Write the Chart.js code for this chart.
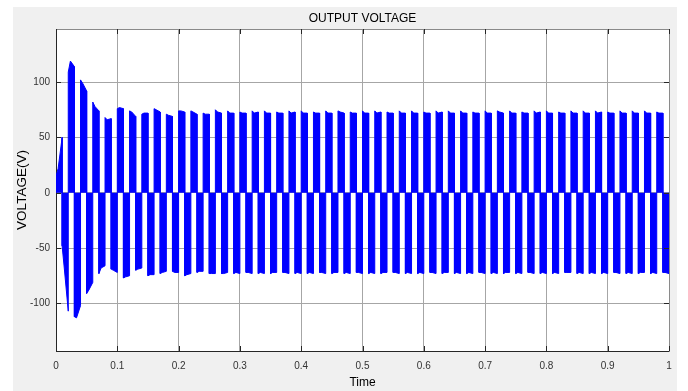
<!DOCTYPE html>
<html>
<head>
<meta charset="utf-8">
<script src="https://cdn.jsdelivr.net/npm/chart.js@4.4.1/dist/chart.umd.min.js"></script>
<style>
  html, body { margin: 0; padding: 0; background: #fff; }
  #c { display: block; }
</style>
</head>
<body>
<canvas id="c" width="688" height="391"></canvas>
<script>
// Output voltage of a single phase inverter (50 Hz square wave), scope style plot.
const chartTitle = 'OUTPUT VOLTAGE';
const xTitle = 'Time';
const yTitle = 'VOLTAGE(V)';

const xTicks = [0, 0.1, 0.2, 0.3, 0.4, 0.5, 0.6, 0.7, 0.8, 0.9, 1];
const xTickLabels = ['0', '0.1', '0.2', '0.3', '0.4', '0.5', '0.6', '0.7', '0.8', '0.9', '1'];
const yTicks = [-100, -50, 0, 50, 100];

// start time of each cycle (positive half first, negative half second)
const cycleStarts = [
  0.00, 0.02, 0.04, 0.06, 0.08, 0.10, 0.12, 0.14, 0.16, 0.18,
  0.20, 0.22, 0.24, 0.26, 0.28, 0.30, 0.32, 0.34, 0.36, 0.38,
  0.40, 0.42, 0.44, 0.46, 0.48, 0.50, 0.52, 0.54, 0.56, 0.58,
  0.60, 0.62, 0.64, 0.66, 0.68, 0.70, 0.72, 0.74, 0.76, 0.78,
  0.80, 0.82, 0.84, 0.86, 0.88, 0.90, 0.92, 0.94, 0.96, 0.98
];
// positive half cycle: value at start, near start, at end
const posTop = [
  [15, 22, 50], [109, 119, 114], [102, 99, 92], [82, 78, 74], [68, 66, 67],
  [76, 77, 76], [74, 73, 69], [71, 72, 72], [76, 75, 73], [71, 70, 69],
  [74, 74, 73], [74, 73, 71], [72, 71, 71], [75, 73, 72], [74, 72, 72],
  [73, 72, 72], [74, 72, 73], [74, 72, 72], [73, 72, 72], [74, 72, 73],
  [74, 72, 72], [73, 72, 72], [74, 72, 72], [74, 73, 72], [73, 72, 72],
  [74, 72, 72], [74, 72, 73], [73, 72, 72], [74, 72, 72], [74, 72, 72],
  [73, 72, 72], [74, 72, 73], [74, 72, 72], [74, 72, 72], [73, 72, 72],
  [74, 72, 72], [74, 73, 72], [74, 72, 72], [73, 72, 72], [74, 72, 73],
  [74, 72, 72], [73, 72, 72], [74, 72, 72], [74, 72, 72], [74, 72, 73],
  [73, 72, 72], [74, 72, 72], [74, 72, 72], [74, 72, 72], [73, 72, 72]
];
// negative half cycle: value at start, near start, at end
const negBottom = [
  [-48, -68, -107], [-112, -113, -102], [-91, -88, -81], [-73, -68, -66], [-69, -70, -72],
  [-77, -76, -75], [-70, -69, -68], [-75, -74, -74], [-73, -72, -71], [-71, -72, -72],
  [-75, -74, -73], [-72, -71, -71], [-73, -73, -73], [-73, -73, -72], [-73, -72, -73],
  [-72, -72, -73], [-73, -72, -73], [-73, -72, -72], [-72, -72, -73], [-73, -72, -73],
  [-73, -72, -73], [-72, -72, -73], [-73, -72, -72], [-73, -72, -73], [-72, -72, -73],
  [-73, -72, -73], [-73, -72, -72], [-72, -72, -73], [-73, -72, -73], [-73, -72, -73],
  [-72, -72, -73], [-73, -72, -72], [-73, -72, -73], [-73, -72, -73], [-72, -72, -73],
  [-73, -72, -73], [-73, -72, -72], [-73, -72, -73], [-72, -72, -73], [-73, -72, -73],
  [-73, -72, -73], [-72, -72, -72], [-73, -72, -73], [-73, -72, -73], [-73, -72, -73],
  [-72, -72, -73], [-73, -72, -73], [-73, -72, -72], [-73, -72, -73], [-72, -72, -73]
];

const HALF = 0.01;
const pts = [];
cycleStarts.forEach((t0, k) => {
  const p = posTop[k], n = negBottom[k];
  const tn = t0 + HALF;
  pts.push({x: t0, y: 0}, {x: t0, y: p[0]}, {x: t0 + 0.0035, y: p[1]}, {x: tn, y: p[2]}, {x: tn, y: 0});
  pts.push({x: tn, y: n[0]}, {x: tn + 0.0035, y: n[1]}, {x: tn + HALF, y: n[2]}, {x: tn + HALF, y: 0});
});

const sans = "'Liberation Sans', Arial, sans-serif";
const txt = '#333333';

const frame = {
  id: 'frame',
  beforeDraw(chart) {
    const {ctx, chartArea: a} = chart;
    ctx.save();
    ctx.fillStyle = '#ffffff';
    ctx.fillRect(0, 0, chart.width, chart.height);
    ctx.fillStyle = '#f0f0f0';
    ctx.fillRect(13, 7, 664, chart.height - 7);
    ctx.fillStyle = '#ffffff';
    ctx.fillRect(a.left, a.top, a.right - a.left, a.bottom - a.top);
    ctx.restore();
  },
  afterDatasetsDraw(chart) {
    const {ctx, chartArea: a, scales} = chart;
    ctx.save();
    ctx.strokeStyle = '#262626';
    ctx.lineWidth = 1;
    ctx.beginPath();
    xTicks.forEach(v => {
      const x = Math.round(scales.x.getPixelForValue(v)) + 0.5;
      ctx.moveTo(x, a.bottom); ctx.lineTo(x, a.bottom - 5);
      ctx.moveTo(x, a.top); ctx.lineTo(x, a.top + 5);
    });
    yTicks.forEach(v => {
      const y = Math.round(scales.y.getPixelForValue(v)) + 0.5;
      ctx.moveTo(a.left, y); ctx.lineTo(a.left + 5, y);
      ctx.moveTo(a.right, y); ctx.lineTo(a.right - 5, y);
    });
    ctx.stroke();
    ctx.restore();
  }
};

new Chart(document.getElementById('c'), {
  type: 'line',
  data: {
    datasets: [{
      data: pts,
      borderColor: '#0000ff',
      backgroundColor: '#0000ff',
      borderWidth: 1,
      pointRadius: 0,
      tension: 0,
      fill: 'origin'
    }]
  },
  options: {
    responsive: false,
    animation: false,
    events: [],
    layout: {padding: 0},
    plugins: {legend: {display: false}, tooltip: {enabled: false}},
    scales: {
      x: {
        type: 'linear', min: 0, max: 1,
        afterBuildTicks: s => { s.ticks = xTicks.map(v => ({value: v})); },
        afterFit: s => { s.height = 40; },
        ticks: {
          callback: (v, i) => xTickLabels[i],
          font: {family: sans, size: 10}, color: txt, padding: 9,
          maxRotation: 0, autoSkip: false
        },
        grid: {color: '#a6a6a6', drawTicks: false},
        border: {color: '#262626', width: 1},
        title: {display: true, text: xTitle, color: '#000', font: {family: sans, size: 12}, padding: {top: 0, bottom: 1}}
      },
      xTop: {
        type: 'linear', position: 'top', min: 0, max: 1,
        afterFit: s => { s.height = 29; },
        ticks: {display: false},
        grid: {drawOnChartArea: false, drawTicks: false},
        border: {color: '#8a8a8a', width: 1},
        title: {display: true, text: chartTitle, color: '#000', font: {family: sans, size: 12}, padding: {top: 11, bottom: 0}}
      },
      y: {
        type: 'linear', min: -143, max: 148,
        afterBuildTicks: s => { s.ticks = yTicks.map(v => ({value: v})); },
        afterFit: s => { s.width = 56; },
        ticks: {font: {family: sans, size: 10}, color: txt, padding: 6},
        grid: {color: '#a6a6a6', drawTicks: false},
        border: {color: '#262626', width: 1},
        title: {display: true, text: yTitle, color: '#000', font: {family: sans, size: 13.5}, padding: {top: 14, bottom: 0}}
      },
      yRight: {
        type: 'linear', position: 'right', min: -143, max: 148,
        afterFit: s => { s.width = 19; },
        ticks: {display: false},
        grid: {drawOnChartArea: false, drawTicks: false},
        border: {color: '#8a8a8a', width: 1}
      }
    }
  },
  plugins: [frame]
});
</script>
</body>
</html>
